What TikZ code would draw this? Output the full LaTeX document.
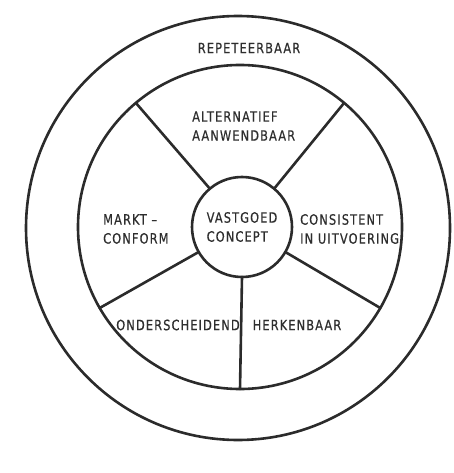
\documentclass[tikz,border=0pt]{standalone}
\usepackage{fontspec}
\newfontfamily\lblfont[FakeStretch=0.8,LetterSpace=8,FakeBold=0.6]{DejaVu Sans}
\definecolor{ink}{HTML}{2B2B2B}
\definecolor{txt}{HTML}{2E2E2E}
\begin{document}
\begin{tikzpicture}[x=1pt,y=-1pt,
  ring/.style={circle,draw=ink,line width=2.6pt,inner sep=0pt,outer sep=0pt},
  spoke/.style={draw=ink,line width=2.6pt,line cap=round},
  lbl/.style={text=txt,font=\lblfont\fontsize{14.2}{19}\selectfont,inner sep=0pt,align=left}]
\useasboundingbox (0,0) rectangle (454,473);
\node[ring,minimum size=424] (outer) at (238,228) {};
\node[ring,minimum size=324] (inner) at (240,227) {};
\node[ring,minimum size=100,lbl,text=txt] (core) at (242,227) {VASTGOED\\CONCEPT};
\foreach \a in {130,50,-30,-90,-150}{
  \draw[spoke] (core.\a) -- (inner.\a);
}
\node[lbl] (rep) at (249,48) {REPETEERBAAR};
\node[lbl,anchor=west] (alt) at (192,126) {ALTERNATIEF\\AANWENDBAAR};
\node[lbl,anchor=west] (mkt) at (103,229) {MARKT –\\CONFORM};
\node[lbl,anchor=west] (con) at (300,229) {CONSISTENT\\IN UITVOERING};
\node[lbl] (ond) at (178,325) {ONDERSCHEIDEND};
\node[lbl] (her) at (297,325) {HERKENBAAR};
\end{tikzpicture}
\end{document}
